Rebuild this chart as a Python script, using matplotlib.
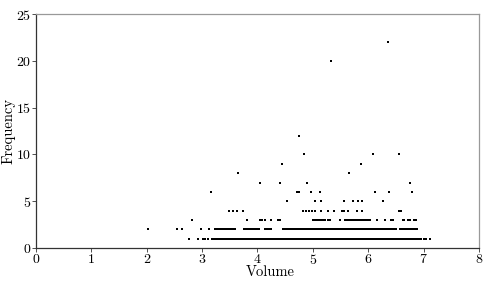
import matplotlib
matplotlib.use("Agg")
import matplotlib.pyplot as plt

matplotlib.rcParams.update({
    "font.family": "cmr10",
    "axes.formatter.use_mathtext": True,
    "font.size": 10,
})

vol_f1 = [2.77, 2.92, 3.02, 3.06, 3.11,
          3.17, 3.20, 3.23, 3.26, 3.29, 3.32, 3.35, 3.38, 3.41, 3.44,
          3.47, 3.50, 3.53, 3.56, 3.59, 3.62, 3.65, 3.68, 3.71, 3.74,
          3.77, 3.80, 3.83, 3.86, 3.89, 3.92, 3.95, 3.98, 4.01, 4.04,
          4.07, 4.10, 4.13, 4.16, 4.19, 4.22, 4.25, 4.28, 4.31, 4.34,
          4.37, 4.40, 4.43, 4.46, 4.49, 4.52, 4.55, 4.58, 4.61, 4.64,
          4.67, 4.70, 4.73, 4.76, 4.79, 4.82, 4.85, 4.88, 4.91, 4.94,
          4.97, 5.00, 5.03, 5.06, 5.09, 5.12, 5.15, 5.18, 5.21, 5.24,
          5.27, 5.30, 5.33, 5.36, 5.39, 5.42, 5.45, 5.48, 5.51, 5.54,
          5.57, 5.60, 5.63, 5.66, 5.69, 5.72, 5.75, 5.78, 5.81, 5.84,
          5.87, 5.90, 5.93, 5.96, 5.99, 6.02, 6.05, 6.08, 6.11, 6.14,
          6.17, 6.20, 6.23, 6.26, 6.29, 6.32, 6.35, 6.38, 6.41, 6.44,
          6.47, 6.50, 6.53, 6.56, 6.59, 6.62, 6.65, 6.68, 6.71, 6.74,
          6.77, 6.80, 6.83, 6.86, 6.89, 6.92, 6.95, 7.01, 7.04, 7.11]
vol_f2 = [2.02, 2.55, 2.64, 2.98, 3.13,
          3.24, 3.27, 3.30, 3.33, 3.36, 3.39, 3.42, 3.45, 3.48, 3.51,
          3.54, 3.57, 3.60,
          3.75, 3.78, 3.81, 3.84, 3.87, 3.90, 3.93, 3.96, 3.99, 4.02,
          4.13, 4.16, 4.19, 4.22, 4.25,
          4.46, 4.49, 4.52, 4.55, 4.58, 4.61, 4.64, 4.67, 4.70, 4.73,
          4.76, 4.79, 4.82, 4.85, 4.88, 4.91, 4.94, 4.97, 5.00, 5.03,
          5.06, 5.09, 5.12, 5.15, 5.18, 5.21, 5.24, 5.27, 5.30, 5.33,
          5.36, 5.39, 5.42, 5.45, 5.48, 5.51, 5.54, 5.57, 5.60, 5.63,
          5.66, 5.69, 5.72, 5.75, 5.78, 5.81, 5.84, 5.87, 5.90, 5.93,
          5.96, 5.99, 6.02, 6.05, 6.08, 6.11, 6.14, 6.17, 6.20, 6.23,
          6.26, 6.29, 6.32, 6.35, 6.38, 6.41, 6.44, 6.47, 6.50,
          6.57, 6.60, 6.63, 6.66, 6.69, 6.72, 6.75,
          6.79, 6.82, 6.85, 6.88]
vol_f3 = [2.81, 3.81, 4.04, 4.08, 4.13, 4.24, 4.37, 4.40,
          5.00, 5.03, 5.08, 5.11, 5.14, 5.19, 5.22, 5.27, 5.31, 5.49,
          5.58, 5.61, 5.64, 5.67, 5.70, 5.73, 5.76, 5.79, 5.82, 5.85,
          5.88, 5.91, 5.94, 5.97, 6.00, 6.03,
          6.16, 6.30, 6.41, 6.45, 6.62, 6.65, 6.72, 6.76, 6.82, 6.86]
vol_f4 = [3.48, 3.55, 3.63, 3.74, 4.83, 4.87, 4.93, 4.98, 5.04, 5.14,
          5.27, 5.38, 5.53, 5.57, 5.64, 5.79, 5.88, 6.55, 6.59]
vol_f5 = [4.54, 5.04, 5.15, 5.56, 5.72, 5.82, 5.89, 6.26]
vol_f6 = [3.16, 4.71, 4.75, 4.97, 5.13, 6.13, 6.37, 6.79]
vol_f7 = [4.04, 4.40, 4.89, 6.75]
vol_f8 = [3.65, 5.65]
vol_f9 = [4.45, 5.87]
vol_f10 = [4.84, 6.08, 6.55]
vol_f12 = [4.75]
vol_f20 = [5.32]
vol_f22 = [6.35]

levels = [1, 2, 3, 4, 5, 6, 7, 8, 9, 10, 12, 20, 22]
groups = [vol_f1, vol_f2, vol_f3, vol_f4, vol_f5, vol_f6, vol_f7, vol_f8,
          vol_f9, vol_f10, vol_f12, vol_f20, vol_f22]

volume, frequency = [], []
for lvl, vols in zip(levels, groups):
    volume += vols
    frequency += [lvl] * len(vols)

fig = plt.figure(figsize=(4.96, 2.81), dpi=100)
ax = fig.add_axes([0.0726, 0.1174, 0.8931, 0.8326])

ax.plot(volume, frequency, linestyle="none", marker="s", markersize=1.6,
        markeredgewidth=0, color="black")

ax.set_xlim(0, 8)
ax.set_ylim(0, 25)
ax.set_xticks(range(0, 9))
ax.set_yticks(range(0, 26, 5))
ax.set_xlabel("Volume", fontsize=10.5)
ax.set_ylabel("Frequency", fontsize=10.5)
ax.xaxis.set_label_coords(0.528, -0.074)
ax.yaxis.set_label_coords(-0.046, 0.5)

for side in ("left", "bottom"):
    ax.spines[side].set_color("#333333")
    ax.spines[side].set_linewidth(0.9)
for side in ("top", "right"):
    ax.spines[side].set_color("#999999")
    ax.spines[side].set_linewidth(0.9)
ax.tick_params(direction="out", length=3, width=0.6, color="#333333", pad=0.5)

fig.savefig("out.png", dpi=100)
